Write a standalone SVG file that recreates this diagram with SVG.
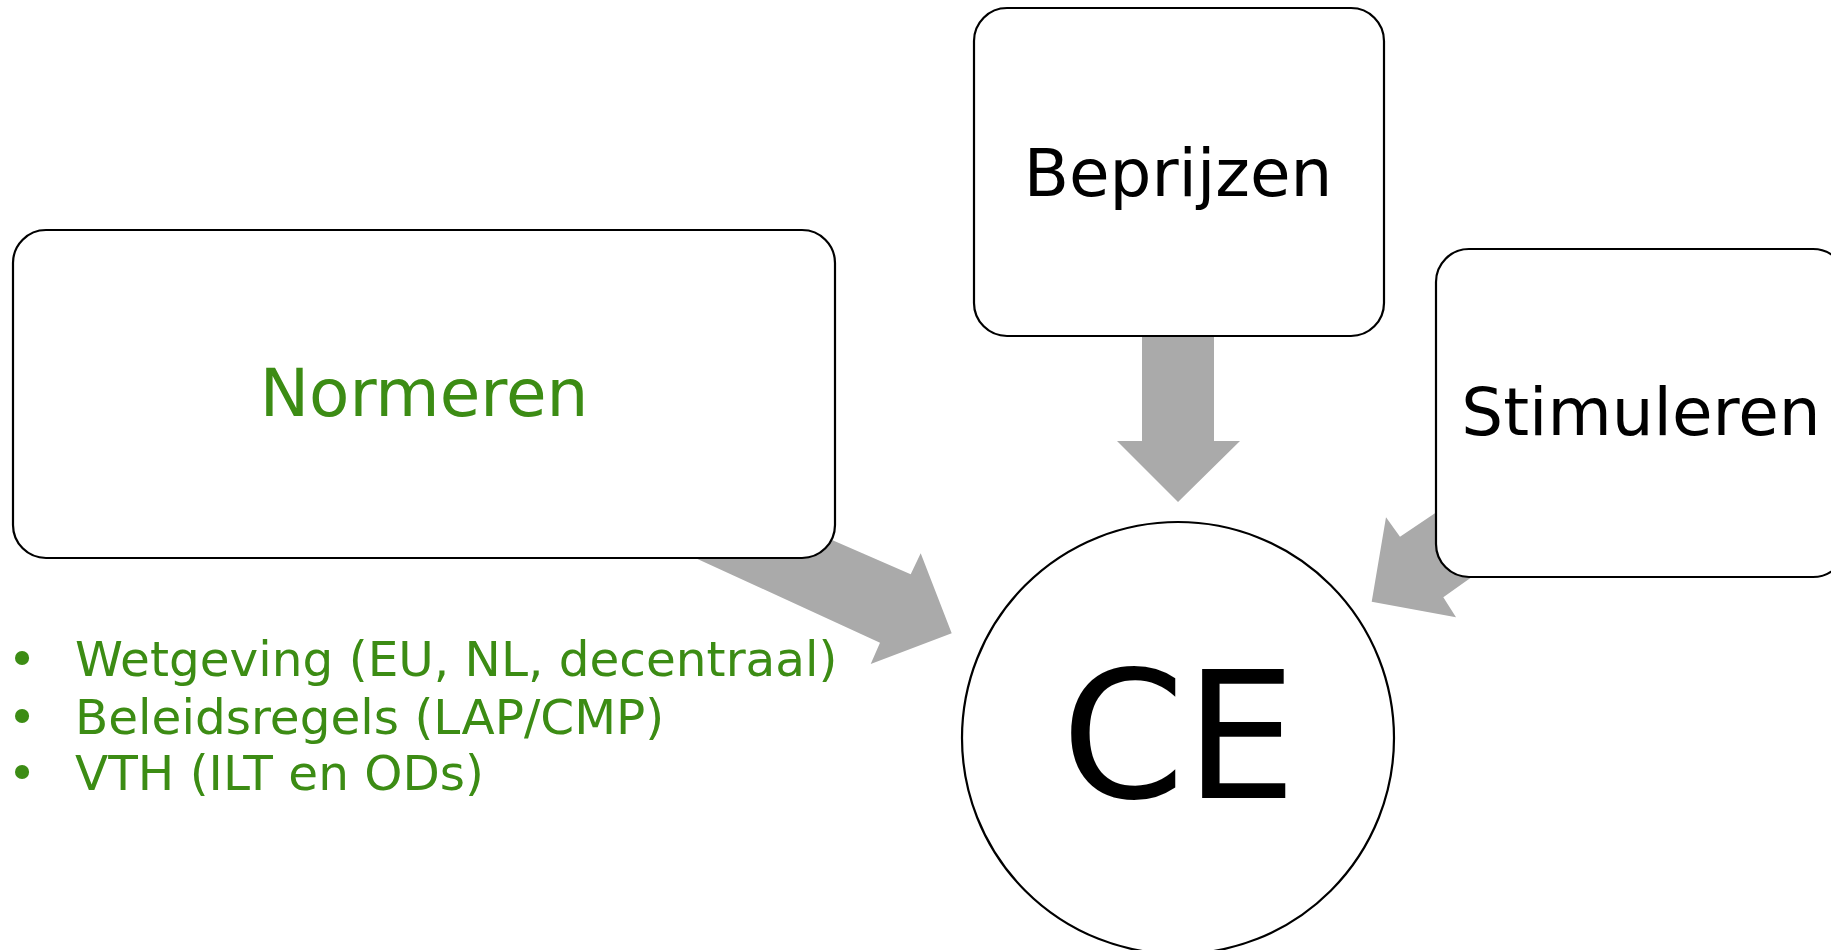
<svg xmlns="http://www.w3.org/2000/svg" width="1831" height="950" viewBox="0 0 1831 950">
<style>
.box{fill:#ffffff;stroke:#000000;stroke-width:2.2}
.arrow{fill:#aaaaaa;stroke:none}
.lbl{font-family:"DejaVu Sans","Noto Sans",sans-serif;font-size:66px;text-anchor:middle;fill:#000000}
.green{fill:#3c8c14}
.bul{font-family:"DejaVu Sans","Noto Sans",sans-serif;font-size:48.5px;fill:#3c8c14}
</style>
<rect width="1831" height="950" fill="#ffffff"/>
<g id="connectors">
<polygon class="arrow" points="1142,330 1214,330 1214,441 1240,441 1178,502 1117,441 1142,441"/>
<polygon class="arrow" points="740,500 910.7,574.3 920.7,553.3 951.7,633.3 870.7,664 880,642.7 620,523.4"/>
<polygon class="arrow" points="1480,483 1400,536.7 1386,517.3 1371.7,601.7 1456,617.3 1443.3,597.3 1500,557"/>
</g>
<g id="node-normeren">
<rect class="box" x="13" y="230" width="822" height="328" rx="33" ry="33"/>
<text class="lbl green" x="424" y="416">Normeren</text>
</g>
<g id="node-beprijzen">
<rect class="box" x="974" y="8" width="410" height="328" rx="33" ry="33"/>
<text class="lbl" x="1178" y="196">Beprijzen</text>
</g>
<g id="node-stimuleren">
<rect class="box" x="1436" y="249" width="410" height="328" rx="33" ry="33"/>
<text class="lbl" x="1641" y="435">Stimuleren</text>
</g>
<g id="node-ce">
<circle class="box" cx="1178" cy="738" r="216"/>
<text x="1179" y="798" font-family="'DejaVu Sans','Noto Sans',sans-serif" font-size="177" text-anchor="middle" fill="#000000">CE</text>
</g>
<g id="bullets">
<text class="bul" x="22" y="676" text-anchor="middle">•</text>
<text class="bul" x="75" y="676">Wetgeving (EU, NL, decentraal)</text>
<text class="bul" x="22" y="734" text-anchor="middle">•</text>
<text class="bul" x="75" y="734">Beleidsregels (LAP/CMP)</text>
<text class="bul" x="22" y="790" text-anchor="middle">•</text>
<text class="bul" x="75" y="790">VTH (ILT en ODs)</text>
</g>
</svg>
